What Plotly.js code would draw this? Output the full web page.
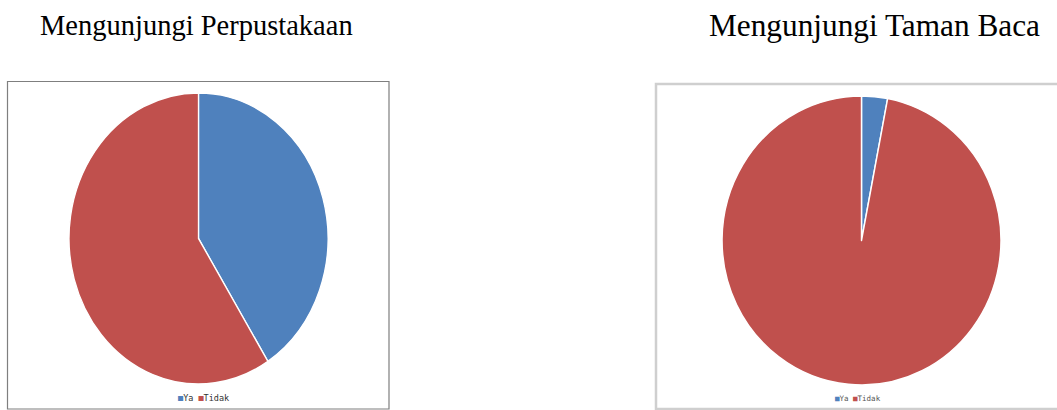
<!DOCTYPE html>
<html>
<head>
<meta charset="utf-8">
<script src="https://cdn.plot.ly/plotly-3.0.1.min.js"></script>
<style>
  html, body { margin: 0; padding: 0; background: #fff; }
  #wrap { position: relative; width: 1057px; height: 410px; overflow: hidden; }
  #main { position: absolute; left: 0; top: 0; width: 1057px; height: 410px; }
  #leftpie { position: absolute; left: 53px; top: 93px; width: 291px; height: 291px;
             transform: scaleX(0.89); transform-origin: 145.5px 145.5px; }
  #rightpie { position: absolute; left: 717px; top: 96px; width: 289px; height: 289px;
             transform: scaleX(0.965); transform-origin: 144.5px 144.5px; }
</style>
</head>
<body>
<div id="wrap">
  <div id="main"></div>
  <div id="leftpie"></div>
  <div id="rightpie"></div>
</div>
<script>
// ---- data ----
const categories = ["Ya", "Tidak"];
const perpustakaanValues = [41, 59];
const tamanBacaValues = [3, 97];
const titles = ["Mengunjungi Perpustakaan", "Mengunjungi Taman Baca"];
const sliceColors = ["#4F81BD", "#C0504D"];

const W = 1057, H = 410;

function legendText() {
  return categories.map((c, i) =>
    '<span style="color:' + sliceColors[i] + '">■</span>' + c).join(' ');
}

function pieTrace(values) {
  return {
    type: 'pie',
    labels: categories,
    values: values,
    sort: false,
    direction: 'clockwise',
    rotation: 0,
    textinfo: 'none',
    hoverinfo: 'label+value',
    showlegend: false,
    marker: { colors: sliceColors, line: { color: '#ffffff', width: 1.5 } },
    domain: { x: [0, 1], y: [0, 1] }
  };
}

const mainLayout = {
  width: W, height: H,
  margin: { l: 0, r: 0, t: 0, b: 0 },
  paper_bgcolor: '#ffffff',
  plot_bgcolor: '#ffffff',
  showlegend: false,
  xaxis: { range: [0, W], visible: false, fixedrange: true },
  yaxis: { range: [H, 0], visible: false, fixedrange: true },
  shapes: [
    { type: 'rect', xref: 'x', yref: 'y', x0: 7.5, x1: 389, y0: 81.5, y1: 409,
      line: { color: '#7f7f7f', width: 1.2 }, fillcolor: 'rgba(0,0,0,0)' },
    { type: 'rect', xref: 'x', yref: 'y', x0: 656, x1: 1070, y0: 84, y1: 409,
      line: { color: '#cfcfcf', width: 2.5 }, fillcolor: 'rgba(0,0,0,0)' }
  ],
  annotations: [
    { xref: 'x', yref: 'y', x: 196.5, y: 25, text: titles[0], showarrow: false,
      font: { family: 'Liberation Serif, Times New Roman, serif', size: 28.5, color: '#000' } },
    { xref: 'x', yref: 'y', x: 874, y: 25, text: titles[1], showarrow: false,
      font: { family: 'Liberation Serif, Times New Roman, serif', size: 31.3, color: '#000' } },
    { xref: 'x', yref: 'y', x: 203, y: 398, text: legendText(), showarrow: false,
      font: { family: 'DejaVu Sans Mono, monospace', size: 8.5, color: '#333' } },
    { xref: 'x', yref: 'y', x: 858, y: 398, text: legendText(), showarrow: false,
      font: { family: 'DejaVu Sans Mono, monospace', size: 7.5, color: '#555' } }
  ]
};

Plotly.newPlot('main', [], mainLayout, { staticPlot: true, displayModeBar: false });

const pieLayout = (s) => ({
  width: s, height: s,
  margin: { l: 0, r: 0, t: 0, b: 0 },
  paper_bgcolor: 'rgba(0,0,0,0)',
  plot_bgcolor: 'rgba(0,0,0,0)',
  showlegend: false
});
Plotly.newPlot('leftpie', [pieTrace(perpustakaanValues)], pieLayout(291), { staticPlot: true, displayModeBar: false });
Plotly.newPlot('rightpie', [pieTrace(tamanBacaValues)], pieLayout(289), { staticPlot: true, displayModeBar: false });
</script>
</body>
</html>
